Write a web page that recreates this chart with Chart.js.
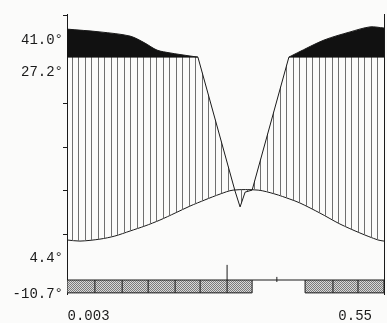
<!DOCTYPE html>
<html>
<head>
<meta charset="utf-8">
<script src="https://cdn.jsdelivr.net/npm/chart.js@4/dist/chart.umd.min.js"></script>
<style>
  html, body { margin: 0; padding: 0; background: #fbfbfa; }
  #plot { display: block; }
</style>
</head>
<body>
<canvas id="plot" width="387" height="323"></canvas>
<script>
// Values (x and y in plot units, 0..100)
const topLeftX  = [0, 10.4, 19.9, 24.6, 28.4, 32.5, 38.8, 41.3];
const topLeftY  = [94.6, 93.6, 92.1, 89.6, 87.1, 86.1, 85.0, 84.6];
const topRightX = [70.0, 72.6, 81.1, 89.3, 95.6, 100];
const topRightY = [84.6, 86.1, 90.7, 93.6, 95.4, 95.0];
const baseLevel = 84.6;

const midX = [0, 41.3, 53.0, 54.6, 56.2, 58.4, 70.0, 100];
const midY = [84.6, 84.6, 36.8, 31.1, 36.4, 37.1, 84.6, 84.6];

const lowX = [0, 4.1, 10.4, 15.1, 19.9, 24.6, 29.3, 34.1, 38.8, 43.5, 48.3, 52.4, 60.3, 65.6, 70.3, 73.5, 79.8, 86.1, 92.4, 98.1, 100];
const lowY = [19.3, 18.9, 19.6, 20.7, 22.5, 24.3, 26.4, 28.9, 31.4, 33.6, 35.7, 37.1, 37.1, 35.7, 33.9, 32.5, 28.9, 25.0, 21.8, 19.3, 18.9];

const bandLeftEdges  = [0, 8.8, 17.4, 25.6, 34.1, 42.0, 50.5, 58.4];
const bandRightEdges = [75.1, 83.9, 91.8, 100];
const bandTop = 5.0, bandBottom = 0.4;
const tallTicks = [[50.5, 5.0, 10.4], [66.2, 4.3, 6.1]];

const yLabelVals = [90.7, 79.3, 12.9, 0];
const yLabels    = ['41.0°', '27.2°', '4.4°', '-10.7°'];
const yMarkVals  = [99.6, 68.2, 52.5, 37.1, 21.1];
const xLabelVals = [6.8, 90.9];
const xLabels    = ['0.003', '0.55'];

const ink = '#1a1a1a';
const zip = (xs, ys) => xs.map((x, i) => ({ x: x, y: ys[i] }));

// vertical stripe hatch
function stripes() {
  const c = document.createElement('canvas');
  c.width = 13; c.height = 4;
  const g = c.getContext('2d');
  g.fillStyle = '#6f6f6f';
  g.fillRect(0, 0, 1, 4);
  g.fillRect(7, 0, 1, 4);
  return g.createPattern(c, 'repeat');
}
// fine cross-hatch for the bottom band
function crosshatch() {
  const c = document.createElement('canvas');
  c.width = 4; c.height = 4;
  const g = c.getContext('2d');
  g.fillStyle = '#d8d8d8';
  g.fillRect(0, 0, 4, 4);
  g.fillStyle = '#7a7a7a';
  [[0,0],[1,1],[2,2],[3,3],[2,0],[3,1],[0,2],[1,3]].forEach(p => g.fillRect(p[0], p[1], 1, 1));
  return g.createPattern(c, 'repeat');
}

// outline pieces of the band, separated by gaps
const bandLines = [];
bandLeftEdges.concat(bandRightEdges).forEach(e => {
  bandLines.push({ x: e, y: bandBottom }, { x: e, y: bandTop }, { x: e, y: null });
});
bandLines.push({ x: bandLeftEdges[0], y: bandBottom }, { x: bandLeftEdges[bandLeftEdges.length - 1], y: bandBottom }, { x: 0, y: null });
bandLines.push({ x: bandRightEdges[0], y: bandBottom }, { x: bandRightEdges[bandRightEdges.length - 1], y: bandBottom }, { x: 0, y: null });
bandLines.push({ x: 0, y: bandTop }, { x: 100, y: bandTop }, { x: 0, y: null });
tallTicks.forEach(t => bandLines.push({ x: t[0], y: t[1] }, { x: t[0], y: t[2] }, { x: 0, y: null }));

const monoFont = { family: '"Liberation Mono", monospace', size: 14 };

new Chart(document.getElementById('plot'), {
  type: 'line',
  data: {
    datasets: [
      { data: zip(topLeftX, topLeftY), borderColor: ink, borderWidth: 1, backgroundColor: '#111',
        fill: { value: baseLevel }, tension: 0.3 },
      { data: zip(topRightX, topRightY), borderColor: ink, borderWidth: 1, backgroundColor: '#111',
        fill: { value: baseLevel }, tension: 0.3 },
      { data: zip(midX, midY), borderColor: ink, borderWidth: 1, backgroundColor: stripes(),
        fill: '+1', tension: 0 },
      { data: zip(lowX, lowY), borderColor: ink, borderWidth: 1, fill: false, tension: 0.3 },
      { data: [{ x: bandLeftEdges[0], y: bandTop }, { x: bandLeftEdges[bandLeftEdges.length - 1], y: bandTop }],
        borderWidth: 0, backgroundColor: crosshatch(), fill: { value: bandBottom }, order: 2 },
      { data: [{ x: bandRightEdges[0], y: bandTop }, { x: bandRightEdges[bandRightEdges.length - 1], y: bandTop }],
        borderWidth: 0, backgroundColor: crosshatch(), fill: { value: bandBottom }, order: 2 },
      { data: bandLines, borderColor: ink, borderWidth: 1, fill: false, spanGaps: false, order: -1 }
    ]
  },
  options: {
    responsive: false,
    animation: false,
    devicePixelRatio: 1,
    layout: { padding: { top: 14, right: 3, left: 0, bottom: 0 } },
    elements: { point: { radius: 0 } },
    plugins: { legend: { display: false }, tooltip: { enabled: false } },
    scales: {
      x: {
        type: 'linear', min: 0, max: 100,
        grid: { display: false },
        border: { display: false },
        afterBuildTicks: a => { a.ticks = xLabelVals.map(v => ({ value: v })); },
        afterFit: a => { a.height = 29; },
        ticks: {
          autoSkip: false, maxRotation: 0, padding: 6, color: ink, font: monoFont,
          callback: v => xLabels[xLabelVals.indexOf(v)] ?? ''
        }
      },
      y: {
        type: 'linear', min: 0, max: 100, position: 'left',
        border: { display: true, color: ink, width: 1 },
        grid: {
          drawOnChartArea: false, tickLength: 4,
          tickColor: c => (c.tick && yMarkVals.includes(c.tick.value)) ? ink : 'rgba(0,0,0,0)'
        },
        afterBuildTicks: a => { a.ticks = yLabelVals.concat(yMarkVals).map(v => ({ value: v })); },
        afterFit: a => { a.width = 67; },
        ticks: {
          autoSkip: false, padding: 0, color: ink, font: monoFont,
          callback: v => yLabels[yLabelVals.indexOf(v)] ?? ''
        }
      },
      yR: {
        type: 'linear', min: 0, max: 100, position: 'right',
        border: { display: true, color: ink, width: 1 },
        grid: { display: false },
        ticks: { display: false },
        afterFit: a => { a.width = 0; }
      }
    }
  }
});
</script>
</body>
</html>
